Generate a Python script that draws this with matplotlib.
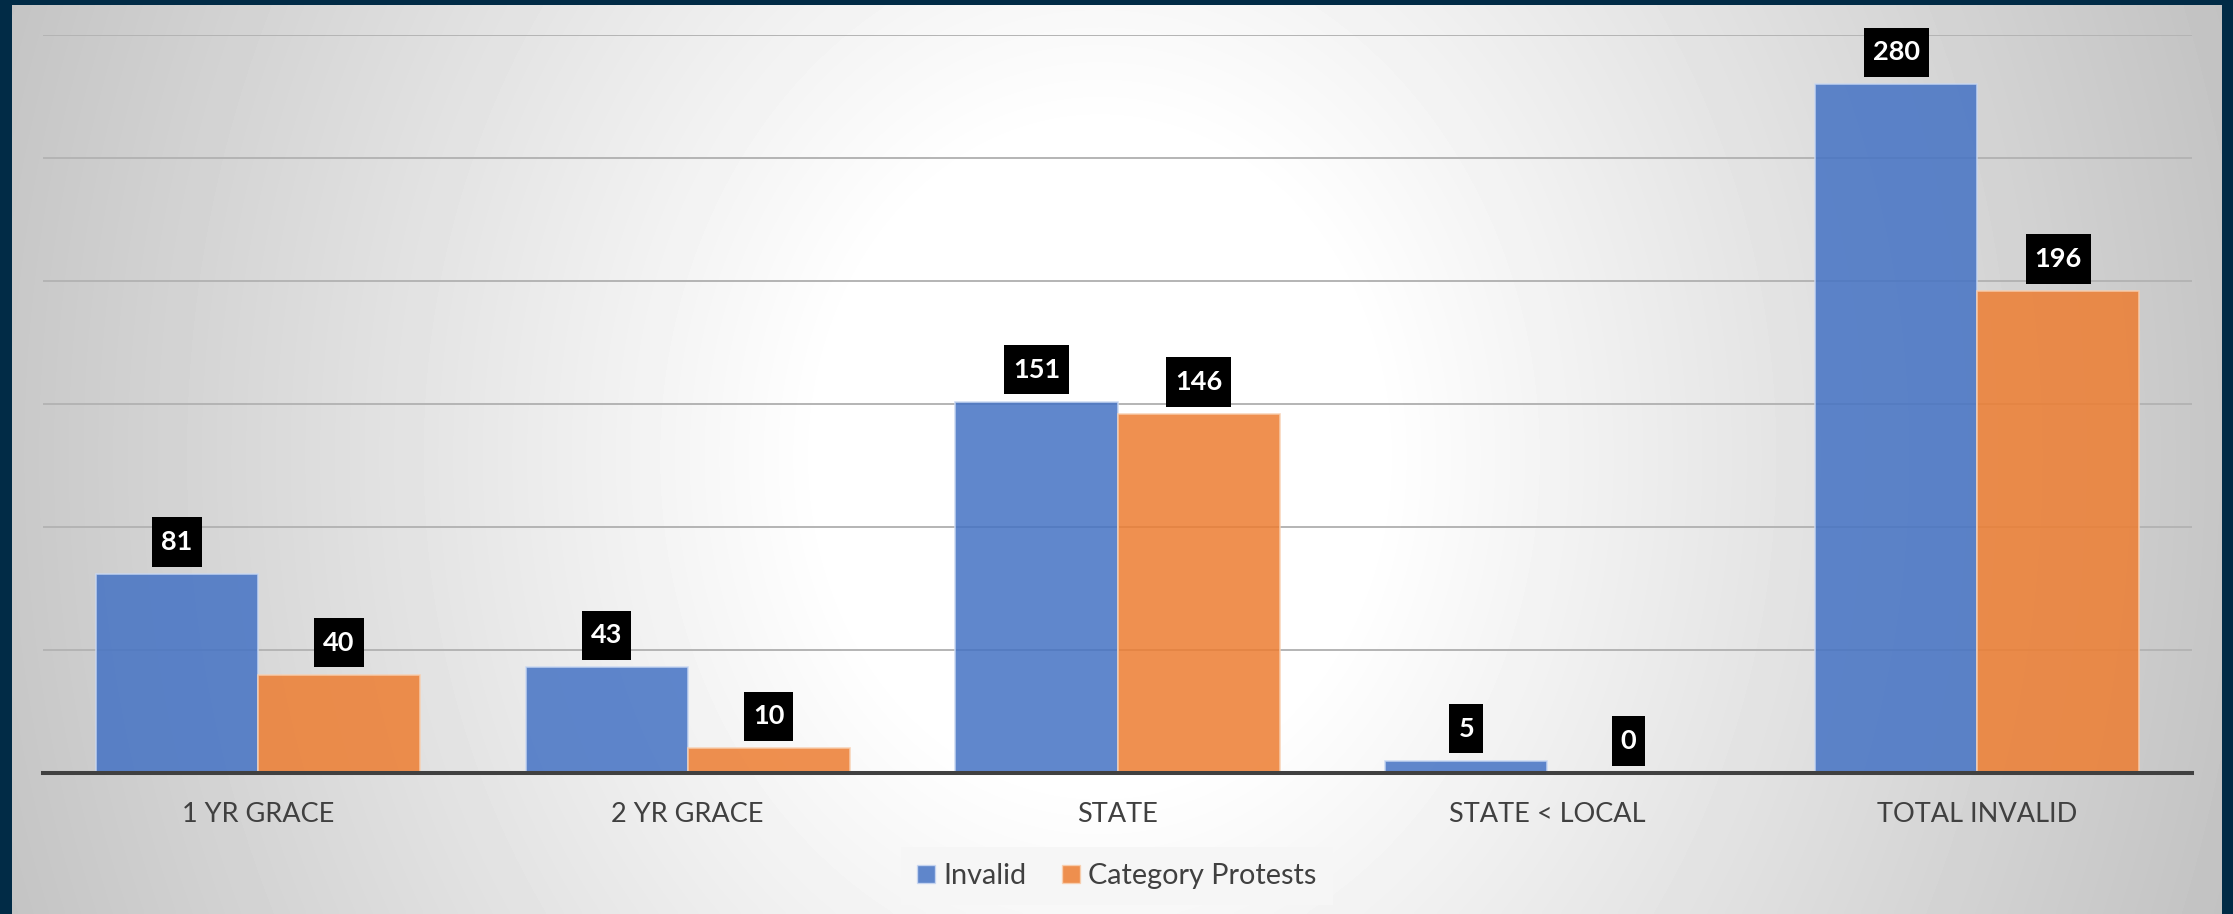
import numpy as np
import matplotlib
matplotlib.use("Agg")
import matplotlib.pyplot as plt
from matplotlib.patches import Patch
from matplotlib.path import Path

plt.rcParams['font.family'] = ['Lato', 'DejaVu Sans']

# datos del grafico
categorias = ['1 YR GRACE', '2 YR GRACE', 'STATE', 'STATE < LOCAL', 'TOTAL INVALID']
invalid = [81, 43, 151, 5, 280]
protests = [40, 10, 146, 0, 196]
series = ['Invalid', 'Category Protests']

azul = '#4472C4'
naranja = '#ED7D31'


def caja(x0, y0, width, height, mutation_size):
    # caja negra con mas relleno vertical que horizontal
    px = 0.33 * mutation_size
    py = 0.47 * mutation_size
    return Path([(x0 - px, y0 - py), (x0 + width + px, y0 - py),
                 (x0 + width + px, y0 + height + py), (x0 - px, y0 + height + py),
                 (x0 - px, y0 - py)], closed=True)


W, H = 2233, 914
fig = plt.figure(figsize=(W / 100, H / 100), dpi=100)
fig.patch.set_facecolor('#012b46')

# fondo con degradado radial (elipse alargada en vertical)
x0, x1, y0, y1 = 12, 2222, 5, H
bg = fig.add_axes([x0 / W, 0, (x1 - x0) / W, (y1 - y0) / H])
bg.set_axis_off()
px = np.linspace(x0, x1, 700)
py = np.linspace(y0, y1, 300)
PX, PY = np.meshgrid(px, py)
u = (PX - 1100) / 1110
v = (PY - 457) / 457
r = np.sqrt(u ** 2 + (0.35 * v) ** 2)
t = np.clip((r - 0.25) / 0.75, 0, 1.2)
gris = (255 - t * 56) / 255
bg.imshow(gris, cmap='gray', vmin=0, vmax=1, aspect='auto',
          extent=[0, 1, 0, 1], origin='upper', interpolation='bicubic')
bg.set_xlim(0, 1)
bg.set_ylim(0, 1)

# ejes principales
ax = fig.add_axes([43 / W, 1 - 773 / H, (2192 - 43) / W, (773 - 35) / H])
ax.patch.set_alpha(0)

x = np.arange(len(categorias))
ancho = 0.377
b1 = ax.bar(x - ancho / 2, invalid, ancho, color=azul, alpha=0.85,
            edgecolor='#c9d8f2', linewidth=1.2, zorder=2, label=series[0])
b2 = ax.bar(x + ancho / 2, protests, ancho, color=naranja, alpha=0.85,
            edgecolor='#f8cfb0', linewidth=1.2, zorder=2, label=series[1])

for barras in (b1, b2):
    for rect in barras:
        h = rect.get_height()
        ax.annotate(f'{int(h)}', (rect.get_x() + rect.get_width() / 2, h),
                    xytext=(0, 23), textcoords='offset points',
                    ha='center', va='center', fontsize=19.5, fontweight='bold',
                    color='white', zorder=5,
                    bbox=dict(boxstyle=caja, fc='black', ec='none'))

ax.set_xlim(-0.5, len(categorias) - 0.5)
ax.set_ylim(0, 300)
ax.set_yticks(np.arange(0, 301, 50))
ax.yaxis.grid(True, color='#b4b4b4', linewidth=1.4, zorder=0)
ax.set_axisbelow(True)
ax.tick_params(axis='y', left=False, labelleft=False)
ax.set_xticks(x)
ax.set_xticklabels(categorias, fontsize=19.5, color='#404040')
ax.tick_params(axis='x', length=0, pad=21)
for s in ['top', 'right', 'left']:
    ax.spines[s].set_visible(False)
ax.spines['bottom'].set_color('#404040')
ax.spines['bottom'].set_linewidth(2.9)
ax.spines['bottom'].set_zorder(3)

handles = [Patch(facecolor=azul, alpha=0.85, edgecolor='#c9d8f2'),
           Patch(facecolor=naranja, alpha=0.85, edgecolor='#f8cfb0')]
leg = fig.legend(handles, series, loc='center', bbox_to_anchor=(1117 / W, 1 - 876 / H),
                 ncol=2, fontsize=20.8, frameon=True, fancybox=False,
                 handlelength=0.6, handleheight=0.6, handletextpad=0.3,
                 columnspacing=1.25, borderpad=0.55, borderaxespad=0)
leg.get_frame().set_facecolor('#f6f6f6')
leg.get_frame().set_edgecolor('none')
leg.get_frame().set_alpha(1)
for txt in leg.get_texts():
    txt.set_color('#404040')

fig.savefig('out.png', dpi=100, facecolor=fig.get_facecolor())
